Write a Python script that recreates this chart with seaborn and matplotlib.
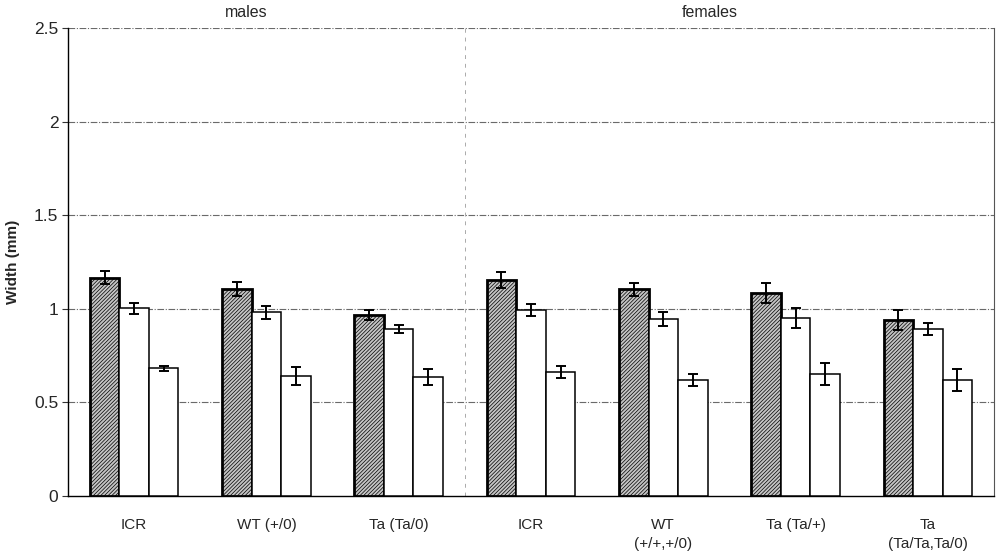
import pandas as pd
import numpy as np
import seaborn as sns
import matplotlib
matplotlib.use("Agg")
import matplotlib.pyplot as plt

groups = ["m_ICR", "m_WT", "m_Ta", "f_ICR", "f_WT", "f_Ta_het", "f_Ta_hom"]
tick_labels = ["ICR", "WT (+/0)", "Ta (Ta/0)", "ICR", "WT\n(+/+,+/0)",
               "Ta (Ta/+)", "Ta\n(Ta/Ta,Ta/0)"]
series = ["s1", "s2", "s3"]
s1_vals = [1.165, 1.105, 0.967, 1.154, 1.104, 1.085, 0.940]
s2_vals = [1.003, 0.982, 0.891, 0.994, 0.946, 0.951, 0.893]
s3_vals = [0.683, 0.641, 0.636, 0.662, 0.620, 0.653, 0.620]
s1_err = [0.035, 0.037, 0.027, 0.042, 0.033, 0.053, 0.054]
s2_err = [0.029, 0.035, 0.021, 0.030, 0.037, 0.056, 0.032]
s3_err = [0.013, 0.046, 0.042, 0.031, 0.031, 0.059, 0.058]

df = pd.DataFrame({
    "group": groups * 3,
    "series": [s for s in series for _ in groups],
    "width": s1_vals + s2_vals + s3_vals,
})
errs = [s1_err, s2_err, s3_err]

sns.set_style("white")
plt.rcParams["font.family"] = ["Liberation Sans", "DejaVu Sans"]
plt.rcParams["hatch.linewidth"] = 0.5

fig = plt.figure(figsize=(10, 5.55), dpi=100)
ax = fig.add_axes([0.068, 0.1063, 0.926, 0.8432])

sns.barplot(data=df, x="group", y="width", hue="series", order=groups,
            hue_order=series, palette=["#c4c4c4", "white", "white"],
            width=0.67, edgecolor="black", linewidth=1.0, legend=False,
            errorbar=None, ax=ax, zorder=3)

bar_conts = list(ax.containers)
for i, cont in enumerate(bar_conts):
    xs = [b.get_x() + b.get_width() / 2 for b in cont]
    hs = [b.get_height() for b in cont]
    for b in cont:
        if i == 0:
            b.set_hatch("/////////")
            b.set_linewidth(2.0)
        else:
            b.set_linewidth(1.1)
        b.set_edgecolor("black")
    ax.errorbar(xs, hs, yerr=errs[i], fmt="none", ecolor="black",
                elinewidth=1.4, capsize=3.5, capthick=1.4, zorder=4)

ax.set_ylim(0, 2.5)
ax.set_xlim(-0.5, len(groups) - 0.5)
ax.set_yticks([0, 0.5, 1, 1.5, 2, 2.5])
ax.set_yticklabels(["0", "0.5", "1", "1.5", "2", "2.5"])
for y in [0.5, 1, 1.5, 2, 2.5]:
    ax.axhline(y, color="#6a6a6a", linewidth=0.8, linestyle=(0, (6, 1.5, 1, 1.5)),
               zorder=1)
ax.axvline(2.5, color="#aaaaaa", linewidth=0.7, linestyle=(0, (4, 5)), zorder=1)

ax.set_xticks(range(len(groups)))
ax.set_xticklabels(tick_labels, fontsize=11, linespacing=1.4)
ax.tick_params(axis="x", length=0, pad=16)
ax.tick_params(axis="y", length=4, direction="out", left=True, labelsize=12.5,
               pad=3, color="#333333")
ax.set_xlabel("")
ax.set_ylabel("Width (mm)", fontsize=11, fontweight="bold", labelpad=10)

for s in ["left", "bottom"]:
    ax.spines[s].set_color("black")
    ax.spines[s].set_linewidth(1.0)
ax.spines["top"].set_visible(False)
ax.spines["right"].set_color("#555555")
ax.spines["right"].set_linewidth(0.8)

ax.text(0.85, 2.585, "males", ha="center", va="center", fontsize=11.5)
ax.text(4.35, 2.585, "females", ha="center", va="center", fontsize=11.5)

fig.savefig("out.png", dpi=100)
